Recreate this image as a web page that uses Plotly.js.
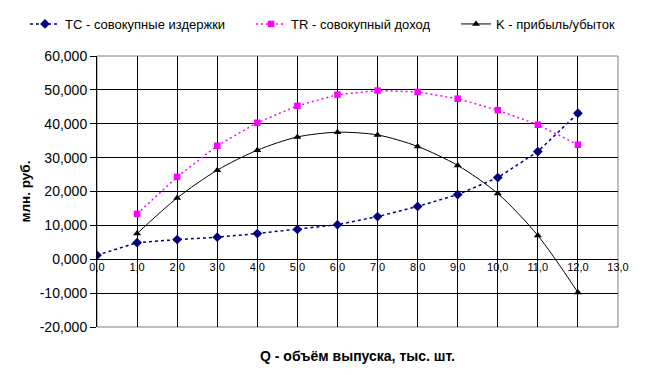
<!DOCTYPE html>
<html>
<head>
<meta charset="utf-8">
<script src="https://cdn.plot.ly/plotly-3.0.1.min.js"></script>
<style>html,body{margin:0;padding:0;background:#fff;}#chart{width:658px;height:375px;}</style>
</head>
<body>
<div id="chart"></div>
<script>
const Q = [0, 1, 2, 3, 4, 5, 6, 7, 8, 9, 10, 11, 12];
const TC = [1.2, 4.9, 5.8, 6.5, 7.6, 8.8, 10.2, 12.6, 15.6, 19.1, 24.1, 31.8, 43.1];
const Q_TR = [1, 2, 3, 4, 5, 6, 7, 8, 9, 10, 11, 12];
const TR = [13.4, 24.3, 33.5, 40.3, 45.3, 48.6, 49.8, 49.4, 47.4, 44.0, 39.7, 33.8];
const K = [7.6, 18.1, 26.3, 32.2, 36.1, 37.5, 36.7, 33.3, 27.7, 19.4, 7.0, -9.8];
const names = ['TC - совокупные издержки', 'TR - совокупный доход', 'K - прибыль/убыток'];
const xTickVals = [0,1,2,3,4,5,6,7,8,9,10,11,12,13];
const xTickText = ['0,0','1,0','2,0','3,0','4,0','5,0','6,0','7,0','8,0','9,0','10,0','11,0','12,0','13,0'];
const yTickVals = [-20,-10,0,10,20,30,40,50,60];
const yTickText = ['-20,000','-10,000','0,000','10,000','20,000','30,000','40,000','50,000','60,000'];
const xTitle = 'Q - объём выпуска, тыс. шт.';
const yTitle = 'млн. руб.';

const W = 658, H = 375;
const font = 'Arial, "Liberation Sans", sans-serif';
const traces = [
  {x: Q, y: TC, name: names[0], type: 'scatter', mode: 'lines+markers', legend: 'legend',
   line: {color: '#000080', width: 1.5, dash: '3px,3px'},
   marker: {symbol: 'diamond', size: 7.5, color: '#000080'}},
  {x: Q_TR, y: TR, name: names[1], type: 'scatter', mode: 'lines+markers', legend: 'legend2',
   line: {color: '#FF00FF', width: 1.5, dash: '2px,3px'},
   marker: {symbol: 'square', size: 6.5, color: '#FF00FF'}},
  {x: Q_TR, y: K, name: names[2], type: 'scatter', mode: 'lines+markers', legend: 'legend3',
   line: {color: '#000000', width: 1, shape: 'spline', smoothing: 0.8},
   marker: {symbol: 'triangle-up', size: 7, color: '#000000'}}
];
function leg(px) {
  return {orientation: 'h', x: px / W, xanchor: 'left', y: 1 - 9 / H, yanchor: 'top',
          xref: 'container', yref: 'container', itemwidth: 30,
          font: {family: font, size: 13, color: '#000'}, bgcolor: 'rgba(0,0,0,0)'};
}
const layout = {
  width: W, height: H,
  margin: {l: 97, r: 40, t: 56, b: 48},
  paper_bgcolor: '#fff', plot_bgcolor: '#fff',
  font: {family: font, size: 12, color: '#000'},
  showlegend: true,
  legend: leg(25), legend2: leg(251), legend3: leg(456),
  xaxis: {range: [0, 13], tickvals: xTickVals, ticktext: xTickText, anchor: 'free', position: 0.25,
          showgrid: true, gridcolor: '#000', gridwidth: 1, zeroline: false, showline: false,
          ticks: '', tickfont: {family: font, size: 11, color: '#000'}},
  yaxis: {range: [-20, 60], tickvals: yTickVals, ticktext: yTickText,
          showgrid: true, gridcolor: '#000', gridwidth: 1, zeroline: false,
          showline: true, linecolor: '#000', linewidth: 1,
          ticks: 'outside', ticklen: 6, tickcolor: '#000',
          tickfont: {family: font, size: 14, color: '#000'},
          title: {text: yTitle, font: {family: font, size: 13.5, color: '#000', weight: 'bold'}, standoff: 5}},
  shapes: [{type: 'rect', xref: 'paper', yref: 'paper', x0: 0, x1: 1, y0: 0, y1: 1,
            line: {color: '#808080', width: 1}, layer: 'between'}],
  annotations: [{text: '<b>' + xTitle + '</b>', xref: 'paper', yref: 'paper', x: 0.5, y: -0.07,
                 xanchor: 'center', yanchor: 'top', showarrow: false,
                 font: {family: font, size: 14, color: '#000'}}]
};
Plotly.newPlot('chart', traces, layout, {displayModeBar: false, staticPlot: true});
</script>
</body>
</html>
